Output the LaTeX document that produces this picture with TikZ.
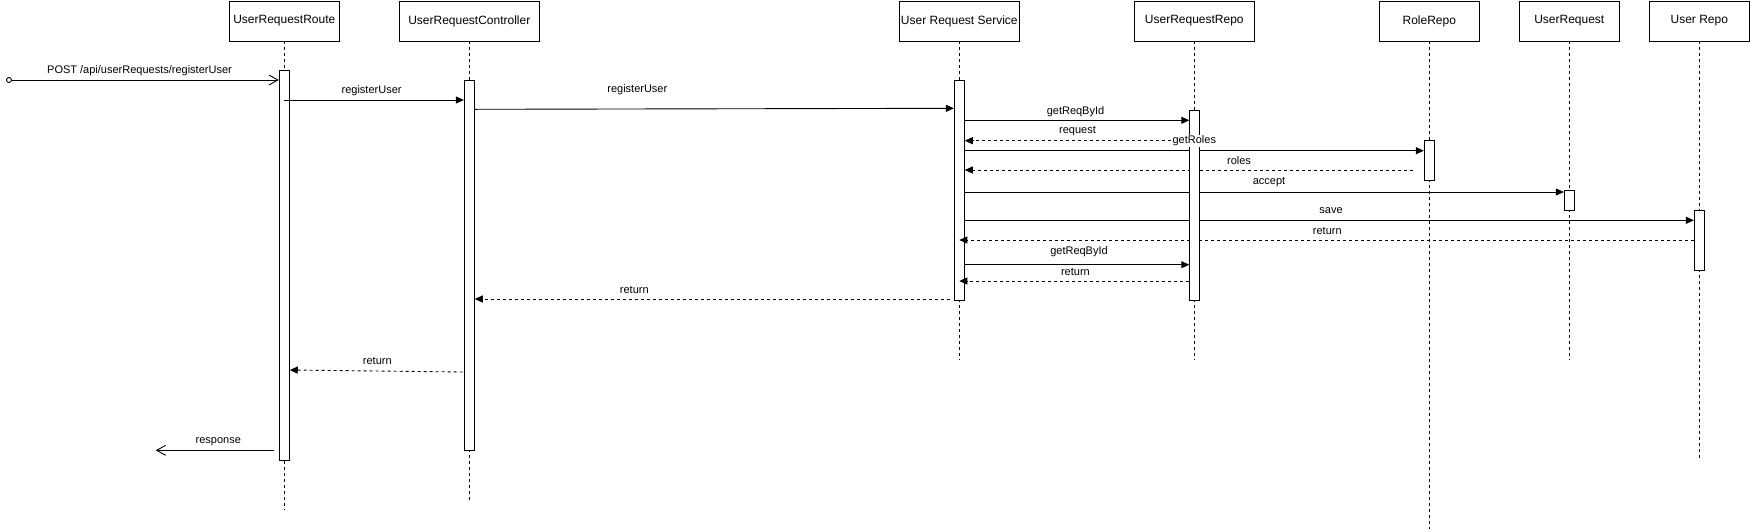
\documentclass[tikz,border=0pt]{standalone}
\usepackage{fontspec}
\setmainfont{Liberation Sans}
\usetikzlibrary{arrows.meta}
\begin{document}
\begin{tikzpicture}[x=1pt,y=-1pt,
  head/.style={draw, line width=0.9pt, minimum height=40pt, inner sep=0pt, anchor=north, font=\fontsize{12}{14}\selectfont},
  bar/.style={draw, fill=white, line width=0.9pt, minimum width=10pt, inner sep=0pt},
  life/.style={line width=0.9pt, dash pattern=on 3pt off 3pt},
  msg/.style={line width=0.9pt, -{Triangle[length=8pt,width=7pt]}},
  ret/.style={msg, dash pattern=on 3pt off 3pt},
  openmsg/.style={line width=0.9pt, -{Straight Barb[length=9pt,width=10pt]}},
  lbl/.style={fill=white, inner sep=0.5pt, font=\fontsize{11}{13}\selectfont},
]
\useasboundingbox (0,0) rectangle (1750,531);

% heads
\node[head, minimum width=110pt] (hRoute) at (284.3,0.5) {UserRequestRoute};
\node[head, minimum width=140pt] (hCtrl) at (469.3,0.5) {UserRequestController};
\node[head, minimum width=120pt] (hSvc) at (959.3,0.5) {User Request Service};
\node[head, minimum width=120pt] (hRepo) at (1194.3,0.5) {UserRequestRepo};
\node[head, minimum width=100pt] (hRole) at (1429.3,0.5) {RoleRepo};
\node[head, minimum width=100pt] (hUR) at (1569.3,0.5) {UserRequest};
\node[head, minimum width=100pt] (hUser) at (1699.3,0.5) {User Repo};

% lifeline ends
\coordinate (eRoute) at (284.3,510);
\coordinate (eCtrl) at (469.3,500);
\coordinate (eSvc) at (959.3,360);
\coordinate (eRepo) at (1194.3,360);
\coordinate (eRole) at (1429.3,529);
\coordinate (eUR) at (1569.3,360);
\coordinate (eUser) at (1699.3,458);

\draw[life] (hRoute.south) -- (eRoute);
\draw[life] (hCtrl.south) -- (eCtrl);
\draw[life] (hSvc.south) -- (eSvc);
\draw[life] (hRepo.south) -- (eRepo);
\draw[life] (hRole.south) -- (eRole);
\draw[life] (hUR.south) -- (eUR);
\draw[life] (hUser.south) -- (eUser);

% activation bars
\node[bar, minimum height=390pt] (rBar) at (284.3,265) {};
\node[bar, minimum height=370pt] (cBar) at (469.3,265) {};
\node[bar, minimum height=220pt] (sBar) at (959.3,190) {};
\node[bar, minimum height=40pt] (roleBar) at (1429.3,160) {};
\node[bar, minimum height=20pt] (urBar) at (1569.3,200) {};
\node[bar, minimum height=60pt] (uBar) at (1699.3,240) {};

% free end points
\node[draw, circle, line width=0.9pt, inner sep=0pt, minimum size=5pt] (start) at (9,80) {};
\coordinate (rolesStart) at (1413.3,170);
\coordinate (svcRetStart) at (950,299);
\coordinate (ctrlRetStart) at (462.7,372);
\coordinate (respStart) at (274.3,450.3);
\coordinate (respEnd) at (155.7,450.3);

% messages
\draw[openmsg] (start.east) -- (rBar.west |- 0,80);
\draw[msg] (rBar.center |- 0,100) -- (cBar.west |- 0,100);
\draw[msg] (cBar.east |- 0,109.3) -- (sBar.west |- 0,108.3);
\draw[msg] (sBar.east |- 0,120.3) -- (1189.3,120.3) coordinate (m4e);
\draw[ret] (1189.3,140.7) coordinate (m5s) -- (sBar.east |- 0,140.7);
\draw[msg] (sBar.east |- 0,150.7) -- (roleBar.west |- 0,150.7);
\draw[ret] (rolesStart) -- (sBar.east |- 0,170);
\draw[msg] (sBar.east |- 0,192) -- (urBar.west |- 0,192);
\draw[msg] (sBar.east |- 0,220.3) -- (uBar.west |- 0,220.3);
\draw[ret] (uBar.west |- 0,240) -- (sBar.center |- 0,240);
\draw[msg] (sBar.east |- 0,264.7) -- (1189.3,264.7);
\draw[ret] (1189.3,281) -- (sBar.center |- 0,281);
\draw[ret] (svcRetStart) -- (cBar.east |- 0,299);
\draw[ret] (ctrlRetStart) -- (rBar.east |- 0,370);
\draw[openmsg] (respStart) -- (respEnd);

% repo bar drawn over the crossing messages
\node[bar, minimum height=190pt] (qBar) at (1194.3,205) {};

% labels
\node[lbl] (l1) at (139.5,71) {POST /api/userRequests/registerUser};
\node[lbl] (l2) at (371.6,91) {registerUser};
\node[lbl] (l3) at (637.3,90) {registerUser};
\node[lbl] (l4) at (1075.5,111.7) {getReqById};
\node[lbl] (l5) at (1077.5,131) {request};
\node[lbl] (l6) at (1194.3,141) {getRoles};
\node[lbl] (l7) at (1239,161) {roles};
\node[lbl] (l8) at (1269,182.3) {accept};
\node[lbl] (l9) at (1331,211) {save};
\node[lbl] (l10) at (1327.3,231.3) {return};
\node[lbl] (l11) at (1079,251.3) {getReqById};
\node[lbl] (l12) at (1075.4,272) {return};
\node[lbl] (l13) at (634.3,290) {return};
\node[lbl] (l14) at (377.3,361.3) {return};
\node[lbl] (l15) at (218.3,441.3) {response};
\end{tikzpicture}
\end{document}
